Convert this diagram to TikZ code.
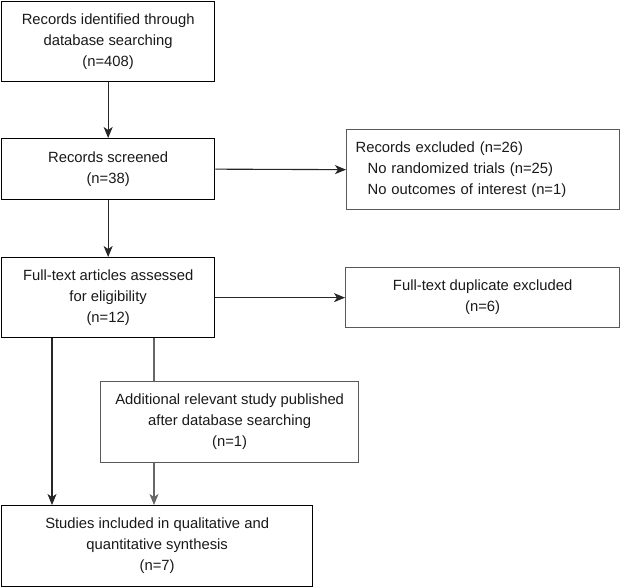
\documentclass[tikz,border=0pt]{standalone}
\usepackage{fontspec}
\setmainfont{Liberation Sans}
\usetikzlibrary{arrows.meta}
\begin{document}
\begin{tikzpicture}[x=1pt,y=-1pt,
  box/.style={draw=black, line width=1.3pt, anchor=north west, inner sep=0pt,
    align=center, font=\fontsize{14.8}{21}\selectfont, text=black!90},
  greybox/.style={box, draw=black!65},
  arr/.style={line width=1.1pt, draw=black!85, -{Stealth[length=11pt,width=9pt,inset=3pt]}},
  garr/.style={arr, draw=black!60},
  ln/.style={line width=1.1pt, draw=black!60}]
\useasboundingbox (0,0) rectangle (620,587);
\node[box, minimum width=213pt, minimum height=80pt] (b1) at (1,1)
  {Records identified through\\database searching\\(n=408)};
\node[box, minimum width=213pt, minimum height=61pt] (b2) at (1,138)
  {Records screened\\(n=38)};
\node[greybox, minimum width=273pt, minimum height=80pt, align=left, text width=255pt] (b3) at (346,129)
  {Records excluded (n=26)\\\hspace*{12pt}No randomized trials (n=25)\\\hspace*{12pt}No outcomes of interest (n=1)};
\node[box, minimum width=213pt, minimum height=80pt] (b4) at (1,257)
  {Full-text articles assessed\\for eligibility\\(n=12)};
\node[greybox, minimum width=274pt, minimum height=60pt] (b5) at (345,267)
  {Full-text duplicate excluded\\(n=6)};
\node[greybox, minimum width=258pt, minimum height=81pt] (b6) at (100,381)
  {Additional relevant study published\\after database searching\\(n=1)};
\node[box, minimum width=311pt, minimum height=81pt] (b7) at (1,505)
  {Studies included in qualitative and\\quantitative synthesis\\(n=7)};
\coordinate (xl) at (52,0);
\coordinate (xr) at (154,0);
\draw[arr] (b1.south) -- (b2.north);
\draw[arr] (b2.east) -- (b3.west);
\draw[arr] (b2.south) -- (b4.north);
\draw[arr] (b4.east) -- (b5.west);
\draw[arr] (b4.south -| xl) -- (b7.north -| xl);
\draw[ln] (b4.south -| xr) -- (b6.north -| xr);
\draw[garr] (b6.south -| xr) -- (b7.north -| xr);
\end{tikzpicture}
\end{document}
